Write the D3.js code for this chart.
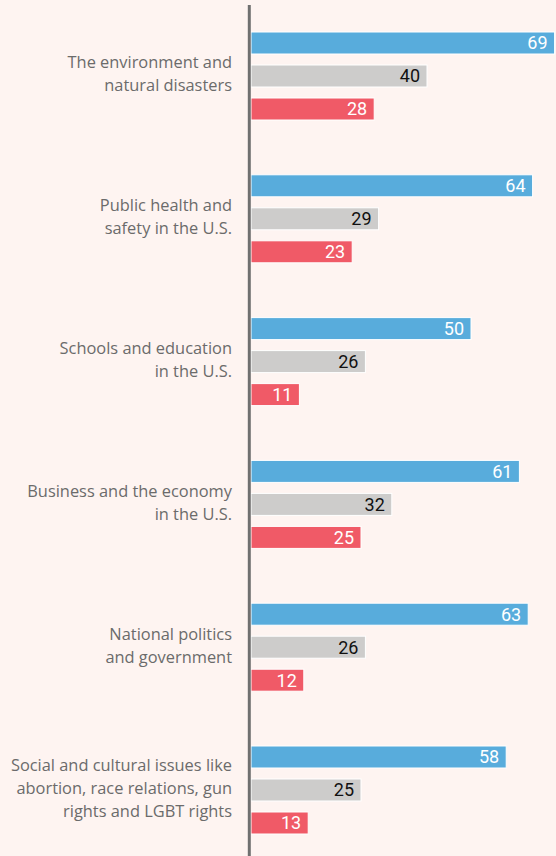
<!DOCTYPE html>
<html>
<head>
<meta charset="utf-8">
<script src="https://cdn.jsdelivr.net/npm/d3@7"></script>
<style>
  html, body { margin: 0; padding: 0; background: #fef4f1; }
  svg { display: block; }
</style>
</head>
<body>
<svg id="chart" width="556" height="856"></svg>
<script>
const categories = [
  ["The environment and", "natural disasters"],
  ["Public health and", "safety in the U.S."],
  ["Schools and education", "in the U.S."],
  ["Business and the economy", "in the U.S."],
  ["National politics", "and government"],
  ["Social and cultural issues like", "abortion, race relations, gun", "rights and LGBT rights"]
];
const seriesNames = ["blue", "gray", "red"];
const blueValues = [69, 64, 50, 61, 63, 58];
const grayValues = [40, 29, 26, 32, 26, 25];
const redValues  = [28, 23, 11, 25, 12, 13];

const colors = { blue: "#58acdc", gray: "#cdcccb", red: "#f05a67" };
const textColors = { blue: "#ffffff", gray: "#111111", red: "#ffffff" };

const svg = d3.select("#chart");
const W = 556, H = 856;

const x = d3.scaleLinear().domain([0, 100]).range([251, 251 + 440]);
const keys = categories.map((c, i) => i);
const yGroup = d3.scaleBand().domain(keys).range([4.6, 4.6 + 142.8 * 6]).padding(0);
const ySeries = d3.scaleBand().domain(seriesNames).range([27.4, 27.4 + 88]).paddingInner(1/3).paddingOuter(0);

const data = keys.map(i => ({
  i,
  label: categories[i],
  values: [
    { key: "blue", v: blueValues[i] },
    { key: "gray", v: grayValues[i] },
    { key: "red", v: redValues[i] }
  ]
}));

const groups = svg.selectAll("g.grp").data(data).join("g")
  .attr("class", "grp")
  .attr("transform", d => `translate(0,${yGroup(d.i)})`);

groups.selectAll("rect").data(d => d.values).join("rect")
  .attr("x", x(0))
  .attr("y", d => ySeries(d.key))
  .attr("width", d => x(d.v) - x(0))
  .attr("height", ySeries.bandwidth())
  .attr("fill", d => colors[d.key])
  .attr("stroke", "#ffffff")
  .attr("stroke-width", 1);

groups.selectAll("text.val").data(d => d.values).join("text")
  .attr("class", "val")
  .attr("x", d => x(d.v) - 7)
  .attr("y", d => ySeries(d.key) + ySeries.bandwidth() / 2 + 6.5)
  .attr("text-anchor", "end")
  .attr("font-family", "Roboto, sans-serif")
  .attr("font-size", 18)
  .attr("fill", d => textColors[d.key])
  .text(d => d.v);

const lineH = 23;
groups.each(function(d) {
  const g = d3.select(this);
  const center = ySeries("gray") + ySeries.bandwidth() / 2;
  const n = d.label.length;
  const t = g.append("text")
    .attr("text-anchor", "end")
    .attr("font-family", "'Open Sans', sans-serif")
    .attr("font-size", 16.4)
    .attr("fill", "#6b6b6b");
  d.label.forEach((line, k) => {
    t.append("tspan")
      .attr("x", 232)
      .attr("y", center + 4 + (k - (n - 1) / 2) * lineH)
      .text(line);
  });
});

svg.append("line")
  .attr("x1", 249.3).attr("x2", 249.3)
  .attr("y1", 5).attr("y2", H)
  .attr("stroke", "#707070")
  .attr("stroke-width", 3);
</script>
</body>
</html>
